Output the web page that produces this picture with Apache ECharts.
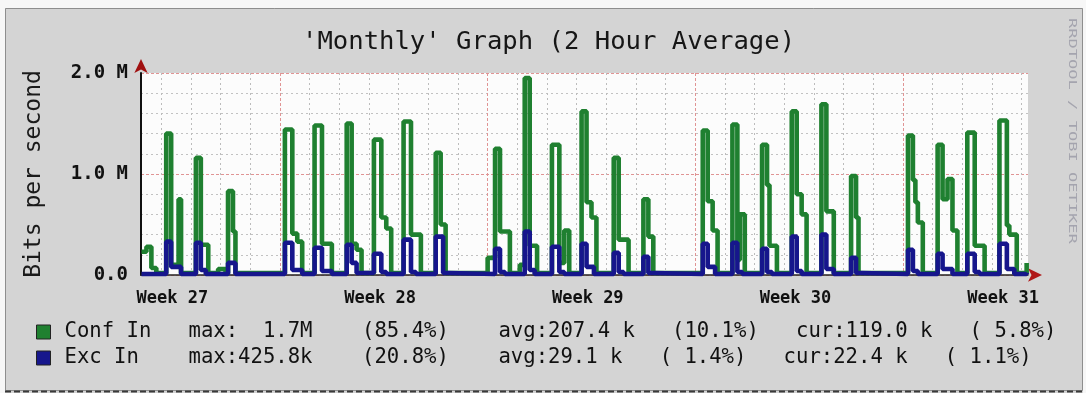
<!DOCTYPE html>
<html>
<head>
<meta charset="utf-8">
<script src="https://cdn.jsdelivr.net/npm/echarts@6/dist/echarts.min.js"></script>
<style>
  html, body { margin: 0; padding: 0; background: #f6f6f6; }
  #chart { width: 1086px; height: 393px; }
</style>
</head>
<body>
<div id="chart"></div>
<script>
// Time is counted in hours from Monday 00:00 of week 27; values are Mbit/s.
const viewStart = 55.6;
const viewEnd = 773.1;

const weekStarts = [168, 336, 504, 672];
const weekLabelHours = [81, 249, 417, 585, 753];
const weekLabels = ['Week 27', 'Week 28', 'Week 29', 'Week 30', 'Week 31'];

// [hour, Mbit/s] — each value holds until the next point (2 hour averages)
const confIn = [
  [56, 0.23], [60, 0.28], [64, 0.07], [68, 0.02],
  [76, 1.40], [80, 0.10], [86, 0.75], [88, 0.02],
  [100, 1.16], [104, 0.30], [110, 0.02],
  [118, 0.06], [124, 0.02],
  [126, 0.83], [130, 0.43], [132, 0.02],
  [172, 1.44], [178, 0.41], [182, 0.33], [186, 0.02],
  [196, 1.48], [202, 0.31], [210, 0.02],
  [222, 1.50], [226, 0.31], [230, 0.25], [234, 0.02],
  [244, 1.34], [250, 0.57], [254, 0.46], [258, 0.02],
  [268, 1.52], [274, 0.40], [282, 0.02],
  [294, 1.21], [298, 0.50], [302, 0.02],
  [336, 0.17], [342, 1.25], [346, 0.43], [354, 0.02],
  [362, 0.10], [366, 1.95], [370, 0.29], [376, 0.02],
  [388, 1.29], [394, 0.12], [398, 0.44], [402, 0.02],
  [412, 1.62], [416, 0.72], [420, 0.57], [424, 0.02],
  [438, 1.16], [442, 0.35], [450, 0.02],
  [462, 0.75], [466, 0.38], [470, 0.02],
  [510, 1.43], [514, 0.73], [518, 0.44], [522, 0.02],
  [534, 1.49], [538, 0.15], [540, 0.60], [544, 0.02],
  [558, 1.29], [562, 0.89], [564, 0.29], [570, 0.02],
  [582, 1.62], [586, 0.80], [590, 0.60], [594, 0.02],
  [606, 1.69], [610, 0.63], [616, 0.02],
  [630, 0.98], [634, 0.57], [636, 0.02],
  [676, 1.38], [680, 0.94], [682, 0.72], [684, 0.52], [688, 0.02],
  [700, 1.29], [704, 0.75], [708, 0.95], [712, 0.44], [716, 0.02],
  [724, 1.41], [730, 0.29], [738, 0.02],
  [750, 1.53], [756, 0.49], [758, 0.40], [764, 0.02],
  [772, 0.119]
];

const excIn = [
  [56, 0.01],
  [76, 0.33], [80, 0.08], [88, 0.01],
  [100, 0.32], [104, 0.05], [108, 0.01],
  [126, 0.12], [132, 0.01],
  [172, 0.32], [178, 0.05], [186, 0.01],
  [196, 0.27], [202, 0.04], [210, 0.01],
  [222, 0.30], [226, 0.12], [230, 0.02],
  [244, 0.21], [250, 0.03], [254, 0.01],
  [268, 0.35], [274, 0.03], [278, 0.01],
  [294, 0.38], [300, 0.02], [304, 0.01],
  [342, 0.26], [346, 0.03], [350, 0.01],
  [366, 0.43], [370, 0.05], [374, 0.01],
  [388, 0.28], [394, 0.03], [398, 0.01],
  [412, 0.31], [416, 0.08], [422, 0.01],
  [438, 0.22], [442, 0.03], [446, 0.01],
  [462, 0.18], [466, 0.02], [470, 0.01],
  [510, 0.31], [514, 0.08], [520, 0.01],
  [534, 0.32], [538, 0.03], [542, 0.01],
  [558, 0.26], [562, 0.03], [566, 0.01],
  [582, 0.38], [586, 0.04], [590, 0.01],
  [606, 0.40], [610, 0.06], [616, 0.01],
  [630, 0.17], [634, 0.02], [638, 0.01],
  [676, 0.25], [680, 0.04], [684, 0.01],
  [700, 0.21], [704, 0.06], [712, 0.01],
  [724, 0.21], [730, 0.03], [734, 0.01],
  [750, 0.31], [756, 0.06], [762, 0.01],
  [772, 0.0224]
];

const seriesNames = ['Conf In', 'Exc In'];
const confStats = ['max:  1.7M', '(85.4%)', 'avg:207.4 k', '(10.1%)', 'cur:119.0 k', '( 5.8%)'];
const excStats = ['max:425.8k', '(20.8%)', 'avg:29.1 k', '( 1.4%)', 'cur:22.4 k', '( 1.1%)'];

const mono = '"DejaVu Sans Mono", monospace';

// one dotted line per day, except where a week line is drawn
const dayLines = [];
for (let h = 72; h < viewEnd; h += 24) {
  if (h % 168 !== 0) dayLines.push(h);
}

function legendLine(name) {
  const s = name === seriesNames[0] ? confStats : excStats;
  return name.padEnd(10) + s[0] + '    ' + s[1] + '    ' + s[2] + '   ' +
    s[3] + '   ' + s[4] + '   ' + s[5];
}

const chart = echarts.init(document.getElementById('chart'), null, { renderer: 'canvas' });

chart.setOption({
  backgroundColor: '#d4d4d4',
  animation: false,
  title: {
    text: "'Monthly' Graph (2 Hour Average)",
    left: 297,
    top: 24,
    textStyle: { fontFamily: mono, fontSize: 25.6, fontWeight: 'normal', color: '#161616' }
  },
  legend: {
    data: seriesNames,
    orient: 'vertical',
    left: 31,
    top: 315,
    icon: 'rect',
    itemWidth: 14,
    itemHeight: 14,
    itemGap: 2,
    selectedMode: false,
    itemStyle: { borderColor: '#222', borderWidth: 1 },
    formatter: legendLine,
    textStyle: { fontFamily: mono, fontSize: 20.6, color: '#111', lineHeight: 24, padding: [0, 0, 0, 9] }
  },
  grid: {
    left: 141, right: 58, top: 73, bottom: 118,
    show: true, backgroundColor: '#fcfcfc', borderWidth: 0,
    outerBoundsMode: 'none'
  },
  xAxis: [
    {
      type: 'value', min: viewStart, max: viewEnd, position: 'bottom',
      axisLine: { show: true, lineStyle: { color: '#222', width: 1.5 } },
      axisTick: { show: false, customValues: dayLines },
      axisLabel: { show: false },
      splitLine: { show: true, lineStyle: { color: '#bcbcbc', type: [2, 3], width: 1 } }
    },
    {
      type: 'value', min: viewStart, max: viewEnd, position: 'bottom',
      axisLine: { show: false },
      axisTick: { show: false, customValues: weekStarts },
      axisLabel: {
        show: true,
        customValues: weekLabelHours,
        formatter: v => weekLabels[weekLabelHours.indexOf(v)],
        margin: 15,
        fontFamily: mono, fontSize: 17, fontWeight: 'bold', color: '#111'
      },
      splitLine: { show: true, lineStyle: { color: '#e09494', type: [3, 2], width: 1 } }
    },
    {
      type: 'value', min: viewStart, max: viewEnd, position: 'bottom',
      axisLine: {
        show: true, symbol: ['none', 'arrow'], symbolSize: [10, 14], symbolOffset: [0, 14],
        lineStyle: { color: '#b01818', width: 0 }
      },
      axisTick: { show: false }, axisLabel: { show: false }, splitLine: { show: false }
    }
  ],
  yAxis: [
    {
      type: 'value', min: 0, max: 2, interval: 1, position: 'left',
      name: 'Bits per second', nameLocation: 'middle', nameGap: 95, nameRotate: 90,
      nameTextStyle: { fontFamily: mono, fontSize: 23, color: '#1a1a1a' },
      axisLine: { show: true, lineStyle: { color: '#111', width: 2 } },
      axisTick: { show: false },
      axisLabel: {
        formatter: v => (v === 0 ? '0.0' : v.toFixed(1) + ' M'),
        margin: 13, fontFamily: mono, fontSize: 19, fontWeight: 'bold', color: '#111'
      },
      splitLine: { show: true, lineStyle: { color: '#e09494', type: [3, 2], width: 1 } },
      minorTick: { show: false, splitNumber: 5 },
      minorSplitLine: { show: true, lineStyle: { color: '#c2c2c2', type: [2, 3], width: 1 } }
    },
    {
      type: 'value', min: 0, max: 2, position: 'left',
      axisLine: {
        show: true, symbol: ['none', 'arrow'], symbolSize: [10, 14], symbolOffset: [0, 14],
        lineStyle: { color: '#a01010', width: 0 }
      },
      axisTick: { show: false }, axisLabel: { show: false }, splitLine: { show: false }
    }
  ],
  graphic: [
    { type: 'rect', silent: true, shape: { x: 0, y: 0, width: 1086, height: 8 }, style: { fill: '#f7f7f7' } },
    { type: 'rect', silent: true, shape: { x: 0, y: 0, width: 5, height: 393 }, style: { fill: '#f7f7f7' } },
    { type: 'rect', silent: true, shape: { x: 1083, y: 0, width: 3, height: 393 }, style: { fill: '#f7f7f7' } },
    { type: 'rect', silent: true, shape: { x: 5.5, y: 8.5, width: 1077, height: 382 },
      style: { fill: 'none', stroke: '#8e8e8e', lineWidth: 1 } },
    { type: 'line', silent: true, shape: { x1: 5, y1: 391.5, x2: 1083, y2: 391.5 },
      style: { stroke: '#3a3a3a', lineWidth: 2, lineDash: [6, 3] } },
    {
      type: 'text', silent: true, x: 1077, y: 18, rotation: -Math.PI / 2, scaleX: 1.55,
      style: { text: 'RRDTOOL / TOBI OETIKER', font: '11px ' + mono, fill: '#a4a4ae' }
    }
  ],
  series: [
    {
      name: seriesNames[0], type: 'line', step: 'end', data: confIn,
      xAxisIndex: 0, yAxisIndex: 0, symbol: 'none', showSymbol: false,
      color: '#1f8030', lineStyle: { color: '#1f8030', width: 4.6 }, z: 3
    },
    {
      name: seriesNames[1], type: 'line', step: 'end', data: excIn,
      xAxisIndex: 0, yAxisIndex: 0, symbol: 'none', showSymbol: false,
      color: '#16168c', lineStyle: { color: '#16168c', width: 4.6 }, z: 4
    }
  ]
});
</script>
</body>
</html>
